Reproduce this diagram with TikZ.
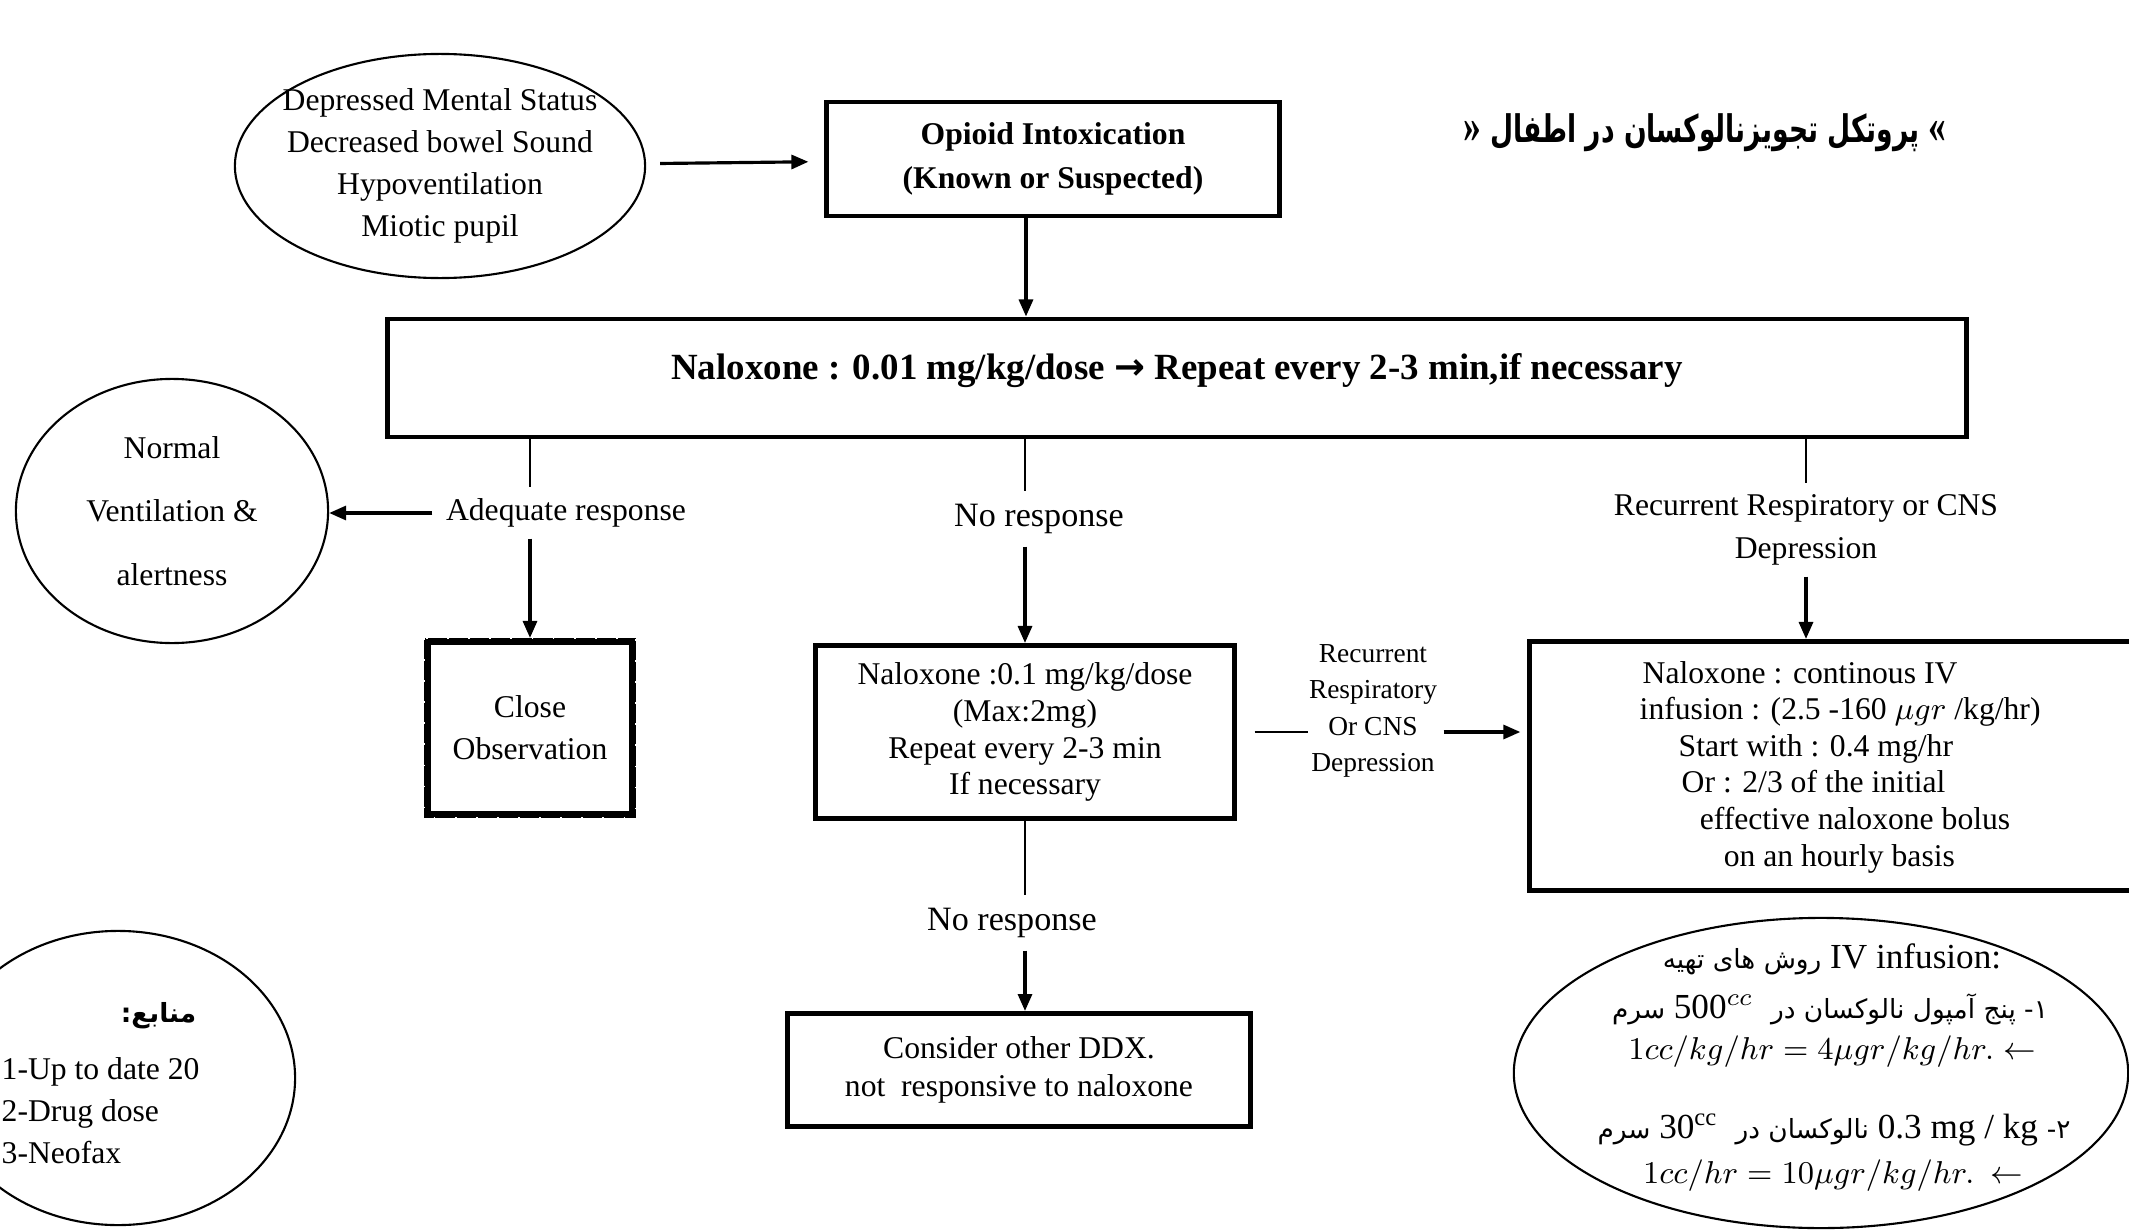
\documentclass[tikz,border=0pt]{standalone}
\usepackage{fontspec}
\usepackage{amsmath}
\usepackage{graphicx}
\setmainfont{Liberation Serif}
\newfontfamily\farsi[Script=Arabic,Scale=0.75]{DejaVu Sans}
\newfontfamily\simbolos{DejaVu Sans}
\TeXXeTstate=1
\usetikzlibrary{shapes.geometric,arrows.meta}

\begin{document}
\begin{tikzpicture}[x=0.01cm, y=-0.01cm,
    caixa/.style={draw, line width=1.4pt, inner sep=0pt, align=center},
    bolha/.style={draw, ellipse, line width=0.6pt, inner sep=0pt},
    rotulo/.style={inner sep=0pt, align=center},
    linha/.style={line width=0.5pt},
    seta/.style={line width=0.9pt, -{Triangle[length=0.17cm, width=0.14cm]}}]
    \useasboundingbox (0,0) rectangle (2129,1230);
    \clip (0,0) rectangle (2129,1230);

    % sintomas e caixa de intoxicação
    \node[bolha, minimum width=4.1cm, minimum height=2.24cm] (sintomas) at (440,166) {};
    \node[rotulo, font=\fontsize{9}{11.9}\selectfont] (sintomastxt) at (sintomas) {Depressed Mental Status\\Decreased bowel Sound\\Hypoventilation\\Miotic pupil};
    \node[caixa, minimum width=4.52cm, minimum height=1.14cm, font=\bfseries\fontsize{9}{12.5}\selectfont] (opioid) at (1053,159) {Opioid Intoxication\\(Known or Suspected)};
    \node[rotulo, font=\farsi\bfseries\fontsize{14.4}{16}\selectfont] (titulo) at (1705,133) {\scalebox{0.7}[1]{{\rmfamily »}\ \beginR پروتکل  تجویزنالوکسان در اطفال\endR\ {\rmfamily «}}};

    % dose inicial
    \node[caixa, minimum width=15.78cm, minimum height=1.18cm, font=\bfseries\fontsize{10.5}{12}\selectfont] (nalox) at (1177,378) {Naloxone : 0.01 mg/kg/dose {\simbolos\bfseries →} Repeat every 2-3 min,if necessary\rule[-0.22cm]{0pt}{0.1cm}};

    % resposta adequada
    \node[rotulo, inner xsep=0.13cm, minimum height=0.5cm, font=\fontsize{9}{12}\selectfont] (adeq) at (566,513) {Adequate response};
    \node[bolha, minimum width=3.12cm, minimum height=2.64cm] (normal) at (172,511) {};
    \node[rotulo, font=\fontsize{9}{18.1}\selectfont] (normaltxt) at (normal) {Normal\\Ventilation \&\\alertness};
    \node[caixa, line width=2pt, minimum width=2.05cm, minimum height=1.73cm, font=\fontsize{9}{11.9}\selectfont] (close) at (530,728) {Close\\Observation};
    \draw[white, line width=0.5pt, dash pattern=on 0.5pt off 5.5pt] (close.north west) rectangle (close.south east);

    % sem resposta
    \node[rotulo, minimum height=0.54cm, font=\fontsize{9.7}{12}\selectfont] (noresp) at (1039,519) {No response};
    \node[caixa, minimum width=4.18cm, minimum height=1.73cm, font=\fontsize{9}{10.5}\selectfont] (meio) at (1025,732) {Naloxone :0.1 mg/kg/dose\\(Max:2mg)\\Repeat every 2-3 min\\If necessary};
    \node[rotulo, font=\fontsize{7.8}{10.4}\selectfont] (recur) at (1373,711) {Recurrent\\Respiratory\\Or CNS\\Depression};
    \node[rotulo, minimum height=0.54cm, font=\fontsize{9.7}{12}\selectfont] (noresp2) at (1012,923) {No response};
    \node[caixa, minimum width=4.63cm, minimum height=1.13cm, font=\fontsize{9}{10.8}\selectfont] (ddx) at (1019,1070) {Consider other DDX.\\not\ \ responsive to naloxone};

    % depressão recorrente
    \node[rotulo, minimum height=0.92cm, font=\fontsize{9}{12.2}\selectfont] (recur2) at (1806,530) {Recurrent Respiratory or CNS\\Depression};
    \node[caixa, minimum width=6.7cm, minimum height=2.49cm] (infusao) at (1865,766) {};
    \node[rotulo, anchor=west, align=left, font=\fontsize{9}{10.4}\selectfont] (infusaotxt) at (1639,767) {\hspace*{0.03cm}Naloxone : continous IV\\
        infusion : (2.5 -160 $\mu gr$ /kg/hr)\\
        \hspace*{0.39cm}Start with : 0.4 mg/hr\\
        \hspace*{0.42cm}Or : 2/3 of the initial\\
        \hspace*{0.60cm}effective naloxone bolus\\
        \hspace*{0.84cm}on an hourly basis};

    % fontes
    \node[bolha, minimum width=3.54cm, minimum height=2.94cm] (fontes) at (118,1078) {};
    \node[rotulo, anchor=east, font=\farsi\bfseries\fontsize{10}{12}\selectfont] (fontestit) at (197,1016) {\beginR منابع:\endR};
    \node[rotulo, anchor=west, align=left, font=\fontsize{9}{11.9}\selectfont] (fonteslista) at (1,1111) {1-Up to date 20\\2-Drug dose\\3-Neofax};

    % preparo da infusão
    \node[bolha, minimum width=6.14cm, minimum height=3.1cm] (preparo) at (1821,1073) {};
    \node[rotulo, font=\fontsize{10}{12}\selectfont] (prep1) at (1832,959) {{\farsi\beginR روش های  تهیه\endR}\ IV infusion:};
    \node[rotulo, font=\fontsize{10}{12}\selectfont] (prep2) at (1830,1009) {{\farsi\beginR سرم\endR}\ 500$^{cc}$\ \ {\farsi\beginR ۱\kern0pt- پنج آمپول نالوکسان در\endR}};
    \node[rotulo, font=\fontsize{9}{12}\selectfont] (prep3) at (1832,1052) {$1cc/kg/hr = 4\mu gr/kg/hr.\leftarrow$};
    \node[rotulo, font=\fontsize{10}{12}\selectfont] (prep4) at (1834,1130) {{\farsi\beginR سرم\endR}\ 30$^{\mathrm{cc}}$\ \ {\farsi\beginR نالوکسان در\endR}\ 0.3 mg / kg {\farsi\beginR ۲\kern0pt-\endR}};
    \node[rotulo, font=\fontsize{9}{12}\selectfont] (prep5) at (1833,1176) {$1cc/hr = 10\mu gr/kg/hr.$\ \ $\leftarrow$};

    % conectores
    \draw[seta, shorten <=0.14cm, shorten >=0.16cm] (sintomas) -- (opioid);
    \draw[seta] ([xshift=-0.27cm]opioid.south) -- ([xshift=-0.27cm]opioid.south |- nalox.north);
    \draw[linha] (nalox.south -| close.north) -- (adeq.north -| close.north);
    \draw[seta] (adeq.south -| close.north) -- (close.north);
    \draw[seta] (adeq.west) -- (adeq.west -| normal.east);
    \draw[linha] (nalox.south -| meio.north) -- (noresp.north -| meio.north);
    \draw[seta] (noresp.south -| meio.north) -- (meio.north);
    \draw[linha, shorten <=0.18cm] (meio.east) -- (recur.west |- meio.east);
    \draw[seta, shorten <=0.06cm, shorten >=0.07cm] (recur.east |- meio.east) -- (infusao.west |- meio.east);
    \draw[linha] (nalox.south -| recur2.north) -- (recur2.north);
    \draw[seta] (recur2.south) -- (recur2.south |- infusao.north);
    \draw[linha] (meio.south) -- (meio.south |- noresp2.north);
    \draw[seta] (meio.south |- noresp2.south) -- (meio.south |- ddx.north);
\end{tikzpicture}
\end{document}
